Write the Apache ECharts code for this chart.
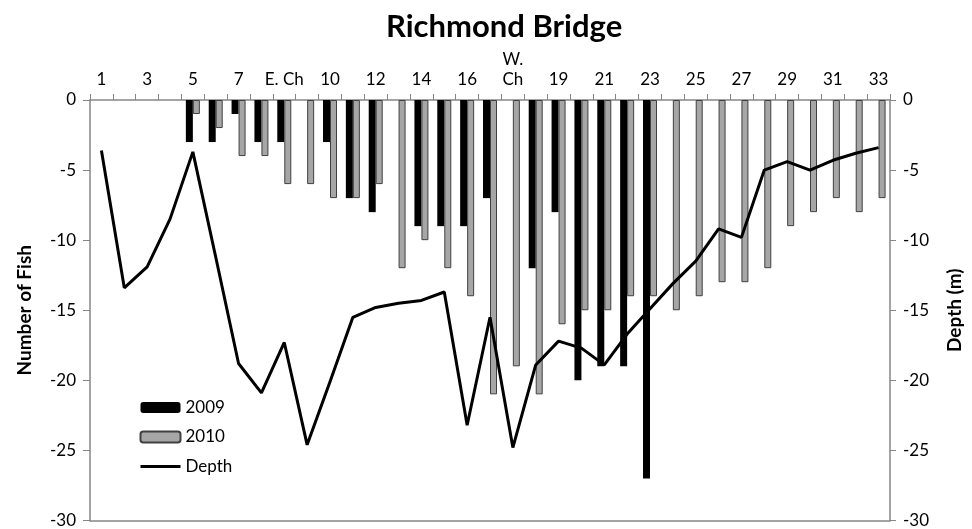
<!DOCTYPE html>
<html>
<head>
<meta charset="utf-8">
<script src="https://cdn.jsdelivr.net/npm/echarts@6/dist/echarts.min.js"></script>
<style>
html,body{margin:0;padding:0;background:#fff;}
#chart{width:972px;height:529px;}
</style>
</head>
<body>
<div id="chart"></div>
<script>
const categories = ['1','2','3','4','5','6','7','8','E. Ch','9','10','11','12','13','14','15','16','17','W.\nCh','18','19','20','21','22','23','24','25','26','27','28','29','30','31','32','33'];
const fish2009 = [null,null,null,null,-3,-3,-1,-3,-3,null,-3,-7,-8,null,-9,-9,-9,-7,null,-12,-8,-20,-19,-19,-27,null,null,null,null,null,null,null,null,null,null];
const fish2010 = [null,null,null,null,-1,-2,-4,-4,-6,-6,-7,-7,-6,-12,-10,-12,-14,-21,-19,-21,-16,-15,-15,-14,-14,-15,-14,-13,-13,-12,-9,-8,-7,-8,-7];
const depth = [-3.6,-13.4,-11.9,-8.5,-3.7,-11.2,-18.8,-20.9,-17.3,-24.6,-20.1,-15.5,-14.8,-14.5,-14.3,-13.7,-23.2,-15.5,-24.8,-18.9,-17.2,-17.7,-18.9,-16.7,-14.9,-13.1,-11.5,-9.2,-9.8,-5.0,-4.4,-5.0,-4.3,-3.8,-3.4];
const yTicks = {min:-30, max:0, interval:5};

const FONT = 'Lato';
const axisGray = '#868686';
const chart = echarts.init(document.getElementById('chart'));
chart.setOption({
  animation:false,
  backgroundColor:'#fff',
  textStyle:{fontFamily:FONT},
  title:{
    text:'Richmond Bridge',
    left:381, top:6,
    textStyle:{fontFamily:FONT, fontSize:31, fontWeight:'bold', color:'#000'}
  },
  legend:{
    orient:'vertical',
    left:134, top:394,
    itemWidth:40, itemHeight:11, itemGap:12.5,
    textStyle:{fontFamily:FONT, fontSize:17, color:'#000'},
    data:['2009','2010',{name:'Depth', itemStyle:{opacity:0}, lineStyle:{color:'#000', width:3}}]
  },
  grid:{left:90, right:80, top:100, bottom:7, containLabel:false},
  xAxis:[{
    type:'category',
    position:'top',
    data:categories,
    boundaryGap:true,
    axisLine:{onZero:false, lineStyle:{color:axisGray, width:1.5}},
    axisTick:{show:true, interval:0, length:6, inside:false, lineStyle:{color:axisGray}},
    axisLabel:{interval:1, margin:10, fontSize:17, color:'#000', fontFamily:FONT, lineHeight:20}
  },{
    type:'category',
    position:'bottom',
    data:categories,
    axisLine:{onZero:false, lineStyle:{color:axisGray, width:1.5}},
    axisTick:{show:false},
    axisLabel:{show:false}
  }],
  yAxis:[{
    type:'value',
    position:'left',
    min:yTicks.min, max:yTicks.max, interval:yTicks.interval,
    name:'Number of Fish',
    nameLocation:'middle',
    nameRotate:90,
    nameGap:56,
    nameTextStyle:{fontFamily:FONT, fontSize:19, fontWeight:'bold', color:'#000'},
    axisLine:{show:true, lineStyle:{color:axisGray, width:1.5}},
    axisTick:{show:true, length:7, lineStyle:{color:axisGray}},
    axisLabel:{margin:14, fontSize:17, color:'#000', fontFamily:FONT},
    splitLine:{show:false}
  },{
    type:'value',
    position:'right',
    min:yTicks.min, max:yTicks.max, interval:yTicks.interval,
    name:'Depth (m)',
    nameLocation:'middle',
    nameRotate:90,
    nameGap:55,
    nameTextStyle:{fontFamily:FONT, fontSize:19, fontWeight:'bold', color:'#000'},
    axisLine:{show:true, lineStyle:{color:axisGray, width:1.5}},
    axisTick:{show:true, length:6, lineStyle:{color:axisGray}},
    axisLabel:{margin:13, fontSize:17, color:'#000', fontFamily:FONT},
    splitLine:{show:false}
  }],
  series:[{
    name:'2009', type:'bar', xAxisIndex:0, yAxisIndex:0,
    data:fish2009, barWidth:7, barGap:'0%',
    itemStyle:{color:'#000', borderColor:'#000', borderWidth:0}
  },{
    name:'2010', type:'bar', xAxisIndex:0, yAxisIndex:0,
    data:fish2010, barWidth:7, barGap:'0%',
    itemStyle:{color:'#a6a6a6', borderColor:'#404040', borderWidth:1}
  },{
    name:'Depth', type:'line', xAxisIndex:0, yAxisIndex:1,
    data:depth, symbol:'none', showSymbol:false,
    lineStyle:{color:'#000', width:3},
    itemStyle:{color:'#000'},
    z:5
  }]
});
</script>
</body>
</html>
